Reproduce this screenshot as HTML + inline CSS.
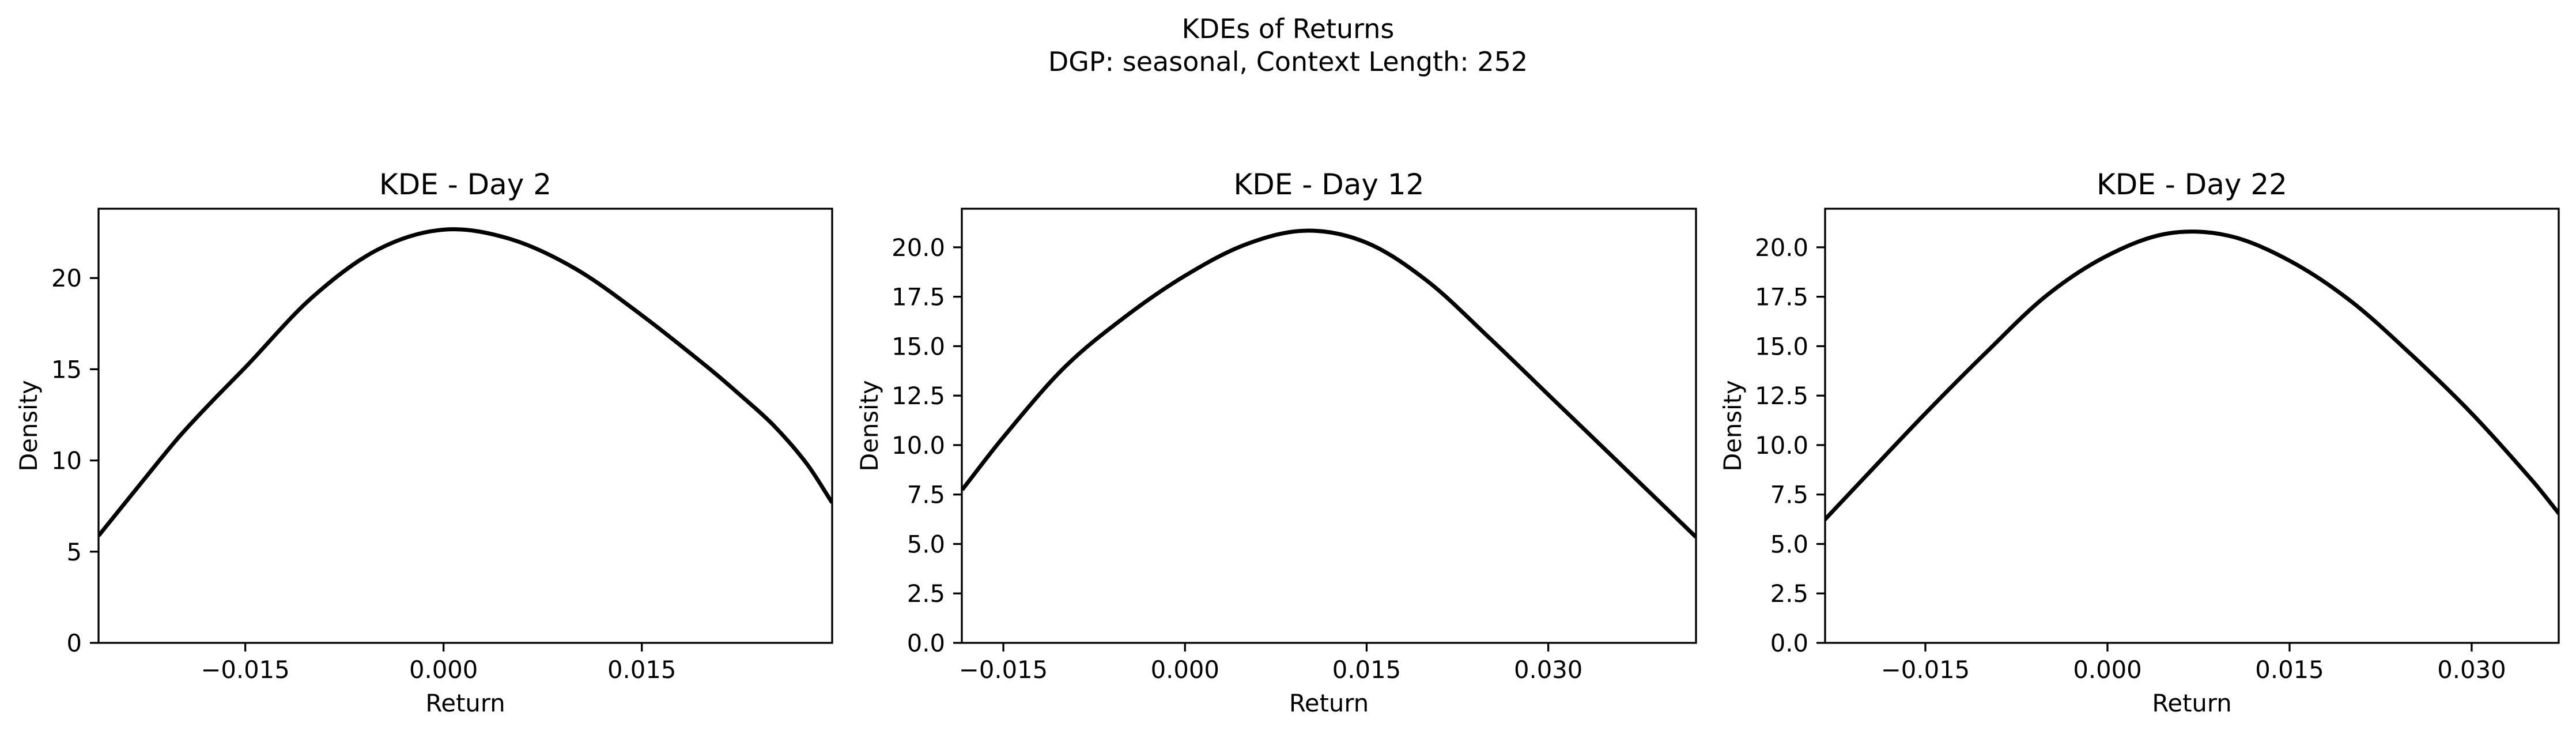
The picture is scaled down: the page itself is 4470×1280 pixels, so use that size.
<!DOCTYPE html>
<html><head><meta charset="utf-8"><style>
html,body{margin:0;padding:0;background:#fff;}
svg text{font-family:"DejaVu Sans","Liberation Sans",sans-serif;fill:#000;}
</style></head><body>
<svg id="fig" width="4470" height="1275" xmlns="http://www.w3.org/2000/svg">
<rect width="4470" height="1275" fill="#fff"/>
<text x="2235" y="66" font-size="46" text-anchor="middle">KDEs of Returns</text>
<text x="2235" y="123" font-size="46" text-anchor="middle">DGP: seasonal, Context Length: 252</text>
</svg>
<script>
const titles = ["KDE - Day 2","KDE - Day 12","KDE - Day 22"];
const xs1 = [-0.0261,-0.0225,-0.020,-0.0175,-0.015,-0.010,-0.005,0,0.005,0.010,0.015,0.020,0.0225,0.025,0.0275,0.0294];
const ys1 = [5.87,9.1,11.3,13.25,15.1,18.9,21.55,22.65,22.15,20.5,17.96,15.1,13.55,11.9,9.8,7.68];
const xs2 = [-0.0184,-0.015,-0.010,-0.005,0,0.005,0.010,0.015,0.020,0.025,0.030,0.035,0.040,0.0422];
const ys2 = [7.74,10.4,13.9,16.46,18.56,20.14,20.84,20.23,18.3,15.5,12.55,9.6,6.65,5.35];
const xs3 = [-0.0233,-0.020,-0.015,-0.010,-0.005,0,0.005,0.010,0.015,0.020,0.025,0.030,0.035,0.0372];
const ys3 = [6.22,8.37,11.6,14.68,17.57,19.58,20.7,20.58,19.32,17.3,14.59,11.6,8.2,6.53];
const xticks1 = [-0.015,0,0.015];
const xtickLabels1 = ["\u22120.015","0.000","0.015"];
const xticks23 = [-0.015,0,0.015,0.03];
const xtickLabels23 = ["\u22120.015","0.000","0.015","0.030"];
const yticks1 = [0,5,10,15,20];
const ytickLabels1 = ["0","5","10","15","20"];
const yticks23 = [0,2.5,5,7.5,10,12.5,15,17.5,20];
const ytickLabels23 = ["0.0","2.5","5.0","7.5","10.0","12.5","15.0","17.5","20.0"];

const NS="http://www.w3.org/2000/svg";
const svg=document.getElementById('fig');
function mk(tag,attrs,parent){const e=document.createElementNS(NS,tag);for(const k in attrs)e.setAttribute(k,attrs[k]);(parent||svg).appendChild(e);return e;}

const panels=[
 {L:171,R:1444,xmin:-0.0261,xmax:0.0294,ymax:23.8,xs:xs1,ys:ys1,xt:xticks1,xl:xtickLabels1,yt:yticks1,yl:ytickLabels1,ylab:50},
 {L:1669,R:2943,xmin:-0.01843,xmax:0.0422,ymax:21.95,xs:xs2,ys:ys2,xt:xticks23,xl:xtickLabels23,yt:yticks23,yl:ytickLabels23,ylab:1509},
 {L:3167,R:4440,xmin:-0.02326,xmax:0.03717,ymax:21.95,xs:xs3,ys:ys3,xt:xticks23,xl:xtickLabels23,yt:yticks23,yl:ytickLabels23,ylab:3007}
];
const T=362,B=1115;
panels.forEach((p,i)=>{
 const g=mk('g',{});
 
 
 const sx=v=>p.L+(v-p.xmin)/(p.xmax-p.xmin)*(p.R-p.L);
 const sy=v=>B-v/p.ymax*(B-T);
 const cx=(p.L+p.R)/2;
 const t=mk('text',{x:cx,y:337,'font-size':50,'text-anchor':'middle'},g);t.textContent=titles[i];
 
 
 const pts=p.xs.map((x,k)=>[sx(x),sy(p.ys[k])]);
 const n=pts.length;
 const m=pts.map((q,k)=>{const a=pts[Math.max(k-1,0)],b=pts[Math.min(k+1,n-1)];return (b[1]-a[1])/(b[0]-a[0]);});
 let d='M'+pts[0][0]+','+pts[0][1];
 for(let k=0;k<n-1;k++){
  const a=pts[k],b=pts[k+1],h=(b[0]-a[0])/3;
  d+=' C'+(a[0]+h)+','+(a[1]+m[k]*h)+' '+(b[0]-h)+','+(b[1]-m[k+1]*h)+' '+b[0]+','+b[1];
 }
 const cp=mk('clipPath',{id:'clip'+i},g);mk('rect',{x:p.L,y:T,width:p.R-p.L,height:B-T},cp);
 const line=mk('path',{d:d,fill:'none',stroke:'#000','stroke-width':7,'clip-path':'url(#clip'+i+')'},g);
 
 
 const fr=mk('rect',{x:p.L,y:T,width:p.R-p.L,height:B-T,fill:'none',stroke:'#000','stroke-width':3.3},g);
 
 
 p.xt.forEach((v,k)=>{
  const x=sx(v);
  mk('line',{x1:x,x2:x,y1:B,y2:B+15,stroke:'#000','stroke-width':3.3},g);
  const tx=mk('text',{x:x,y:1176,'font-size':41.7,'text-anchor':'middle'},g);tx.textContent=p.xl[k];
  
  
 });
 p.yt.forEach((v,k)=>{
  const y=sy(v);
  mk('line',{x1:p.L-15,x2:p.L,y1:y,y2:y,stroke:'#000','stroke-width':3.3},g);
  const ty=mk('text',{x:p.L-29,y:y+15,'font-size':41.7,'text-anchor':'end'},g);ty.textContent=p.yl[k];
  
  
 });
 const xl=mk('text',{x:cx,y:1234,'font-size':41.7,'text-anchor':'middle'},g);xl.textContent='Return';
 
 
 const yl=mk('text',{x:p.ylab+14,y:(T+B)/2,'font-size':41.7,'text-anchor':'middle',transform:'rotate(-90 '+(p.ylab+14)+' '+((T+B)/2)+')'},g);yl.textContent='Density';
 
 
});
</script>
</body></html>
